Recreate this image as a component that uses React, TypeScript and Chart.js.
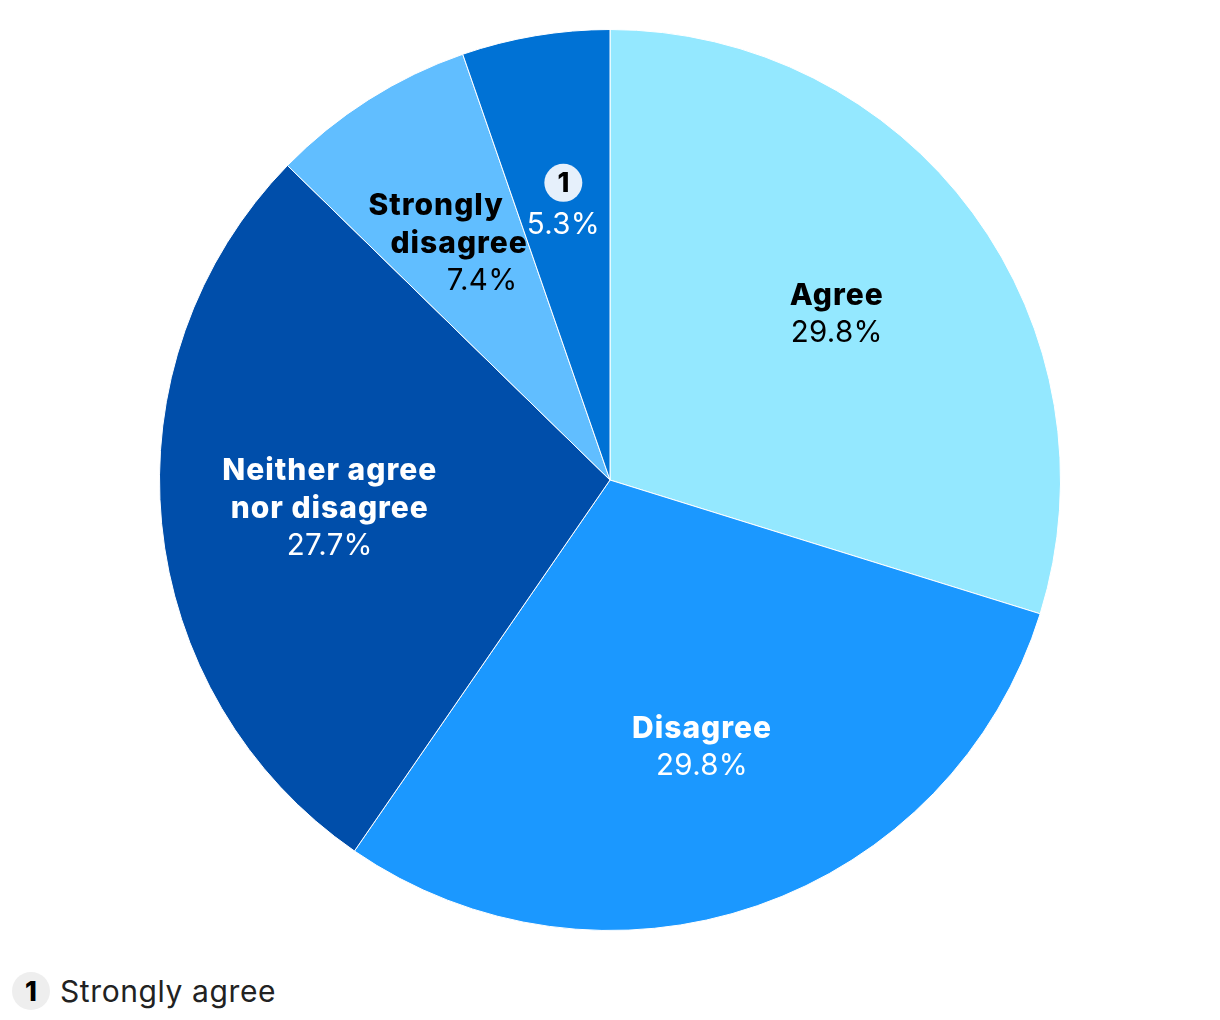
import React, { useEffect, useRef } from "react";
import { Chart, registerables } from "chart.js";

Chart.register(...registerables);

const categories = ["Agree", "Disagree", "Neither agree nor disagree", "Strongly disagree", "Strongly agree"];
const values = [29.8, 29.8, 27.7, 7.4, 5.3];
const labelLines = [["Agree"], ["Disagree"], ["Neither agree", "nor disagree"], ["Strongly", "disagree"], []];
const badgeNumbers = [null, null, null, null, "1"];
const sliceColors = ["#94E8FF", "#1B98FF", "#004EAA", "#61BEFF", "#0072D5"];
const textColors = ["#000000", "#FFFFFF", "#FFFFFF", "#000000", "#FFFFFF"];
const lineLean = [0, 0, 0, 23, 0];

const FONT = "Inter, 'Noto Sans', sans-serif";

const labelPlugin = {
  id: "sliceLabels",
  afterDatasetsDraw(chart: any) {
    const ctx = chart.ctx;
    const meta = chart.getDatasetMeta(0);
    meta.data.forEach((arc: any, i: number) => {
      const { x, y, startAngle, endAngle, outerRadius } = arc.getProps(
        ["x", "y", "startAngle", "endAngle", "outerRadius"],
        true
      );
      const mid = (startAngle + endAngle) / 2;
      const r = outerRadius * 0.625;
      const cx = x + Math.cos(mid) * r;
      const cy = y + Math.sin(mid) * r + 1.5;
      const lines: { text: string; bold: boolean; badge?: boolean }[] = [];
      if (badgeNumbers[i]) lines.push({ text: badgeNumbers[i] as string, bold: true, badge: true });
      labelLines[i].forEach((t) => lines.push({ text: t, bold: true }));
      lines.push({ text: values[i].toFixed(1) + "%", bold: false });
      const lh = badgeNumbers[i] ? 42 : 37.5;
      const n = lines.length;
      ctx.save();
      ctx.textAlign = "center";
      ctx.textBaseline = "middle";
      lines.forEach((ln, k) => {
        const off = k - (n - 1) / 2;
        const ly = cy + off * lh;
        const lx = cx + off * lineLean[i];
        if (ln.badge) {
          ctx.beginPath();
          ctx.arc(lx, ly, 19, 0, Math.PI * 2);
          ctx.fillStyle = "#E6F0FB";
          ctx.fill();
          ctx.fillStyle = "#000000";
          (ctx as any).letterSpacing = "0px";
          ctx.font = `800 27px ${FONT}`;
          ctx.fillText(ln.text, lx, ly + 1);
        } else {
          ctx.fillStyle = textColors[i];
          if (ln.bold) {
            (ctx as any).letterSpacing = "1px";
            ctx.font = `800 30px ${FONT}`;
          } else {
            (ctx as any).letterSpacing = "0.3px";
            ctx.font = `29.5px ${FONT}`;
          }
          ctx.fillText(ln.text, lx, ly);
        }
      });
      ctx.restore();
    });
  },
};

export default function App() {
  const ref = useRef<HTMLCanvasElement | null>(null);
  useEffect(() => {
    if (!ref.current) return;
    const chart = new Chart(ref.current, {
      type: "pie",
      data: {
        labels: categories,
        datasets: [
          {
            data: values,
            backgroundColor: sliceColors,
            borderColor: "#FFFFFF",
            borderWidth: 1,
          },
        ],
      },
      options: {
        animation: false,
        responsive: false,
        maintainAspectRatio: false,
        layout: { padding: { top: 29, bottom: 29, left: 0, right: 0 } },
        plugins: {
          legend: { display: false },
          tooltip: { enabled: false },
        },
      },
      plugins: [labelPlugin],
    });
    return () => chart.destroy();
  }, []);

  return (
    <div
      style={{
        position: "absolute",
        left: 0,
        top: 0,
        width: 1220,
        height: 1020,
        background: "#FFFFFF",
        fontFamily: FONT,
      }}
    >
      <canvas ref={ref} width={1220} height={960} style={{ display: "block", width: 1220, height: 960 }} />
      <div
        style={{
          position: "absolute",
          left: 12,
          top: 972,
          display: "flex",
          alignItems: "center",
          height: 38,
        }}
      >
        <div
          style={{
            width: 38,
            height: 38,
            borderRadius: "50%",
            background: "#EEEEEE",
            display: "flex",
            alignItems: "center",
            justifyContent: "center",
            fontWeight: 800,
            fontSize: 27,
            color: "#000",
          }}
        >
          1
        </div>
        <span style={{ marginLeft: 10, fontSize: 30, letterSpacing: "0.6px", color: "#222222" }}>{categories[4]}</span>
      </div>
    </div>
  );
}
